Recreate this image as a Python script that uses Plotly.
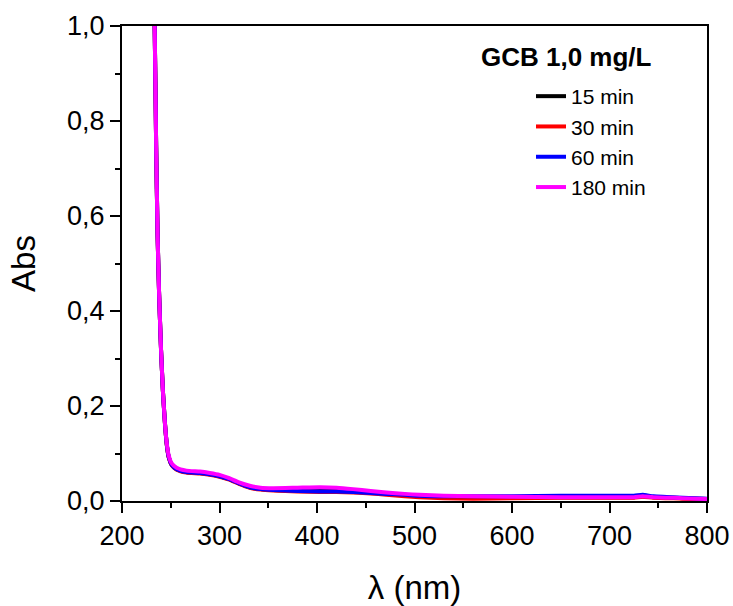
import plotly.graph_objects as go

# UV-Vis absorbance spectra of GCB (1,0 mg/L) at several contact times
wavelength = [232, 233.5, 235, 236.5, 238, 240, 242, 244, 246, 248, 251, 256,
              266, 280, 290, 300, 310, 320, 331, 342, 355, 380, 403, 420, 437,
              455, 471, 490, 505, 530, 560, 600, 650, 700, 725, 734, 745, 775, 800]

abs_15 = [1.10, 1.00, 0.75, 0.56, 0.44, 0.32, 0.23, 0.165, 0.118, 0.092, 0.076, 0.067,
          0.061, 0.059, 0.056, 0.052, 0.046, 0.037, 0.029, 0.025, 0.023, 0.022, 0.021, 0.021, 0.020,
          0.018, 0.015, 0.012, 0.011, 0.009, 0.008, 0.008, 0.008, 0.008, 0.008, 0.010, 0.008, 0.006, 0.004]

abs_30 = [1.10, 1.00, 0.75, 0.56, 0.44, 0.32, 0.23, 0.165, 0.117, 0.091, 0.075, 0.066,
          0.060, 0.058, 0.055, 0.051, 0.045, 0.036, 0.028, 0.024, 0.022, 0.020, 0.019, 0.019, 0.018,
          0.016, 0.013, 0.010, 0.008, 0.006, 0.005, 0.006, 0.007, 0.007, 0.007, 0.009, 0.007, 0.005, 0.003]

abs_60 = [1.10, 1.00, 0.75, 0.56, 0.44, 0.32, 0.23, 0.165, 0.118, 0.092, 0.076, 0.067,
          0.061, 0.059, 0.056, 0.052, 0.046, 0.037, 0.029, 0.025, 0.023, 0.021, 0.020, 0.020, 0.019,
          0.017, 0.015, 0.013, 0.011, 0.010, 0.010, 0.010, 0.011, 0.011, 0.011, 0.013, 0.010, 0.007, 0.005]

abs_180 = [1.10, 1.00, 0.75, 0.56, 0.44, 0.32, 0.23, 0.165, 0.12, 0.095, 0.079, 0.070,
           0.064, 0.062, 0.059, 0.055, 0.048, 0.039, 0.032, 0.028, 0.027, 0.028, 0.029, 0.028, 0.025,
           0.021, 0.018, 0.015, 0.013, 0.011, 0.010, 0.009, 0.008, 0.008, 0.008, 0.010, 0.008, 0.006, 0.004]

series_names = ["15 min", "30 min", "60 min", "180 min"]
series_values = [abs_15, abs_30, abs_60, abs_180]
series_colors = ["#000000", "#ff0000", "#0000ff", "#ff00ff"]

x_ticks = [200, 300, 400, 500, 600, 700, 800]
y_ticks = [0.0, 0.2, 0.4, 0.6, 0.8, 1.0]

FONT = "Arial, 'Liberation Sans', sans-serif"

# plot-area geometry in pixels
L, R, T, B = 122, 26, 26, 105
W, H = 733, 606
PW, PH = W - L - R, H - T - B

fig = go.Figure()
for name, vals, col in zip(series_names, series_values, series_colors):
    fig.add_trace(go.Scatter(
        x=wavelength, y=vals, name=name, mode="lines",
        line=dict(color=col, width=4, shape="spline", smoothing=0.5),
    ))

axis_common = dict(
    showline=True, linecolor="black", linewidth=2, mirror=True,
    ticks="outside", ticklen=10, tickwidth=1.5, tickcolor="black",
    showgrid=False, zeroline=False, automargin=False,
    tickfont=dict(family=FONT, size=27, color="black"),
)

fig.update_layout(
    width=W, height=H,
    margin=dict(l=L, r=R, t=T, b=B),
    paper_bgcolor="white", plot_bgcolor="white",
    separators=",.",
    font=dict(family=FONT, color="black"),
    xaxis=dict(
        range=[200, 800], tickvals=x_ticks,
        minor=dict(dtick=50, ticks="outside", ticklen=5, tickwidth=1.5, tickcolor="black"),
        title=dict(text="λ (nm)", font=dict(family=FONT, size=33), standoff=26),
        **axis_common,
    ),
    yaxis=dict(
        range=[0, 1.0], tickvals=y_ticks, tickformat=".1f",
        minor=dict(dtick=0.1, ticks="outside", ticklen=5, tickwidth=1.5, tickcolor="black"),
        title=dict(text="Abs", font=dict(family=FONT, size=33), standoff=22),
        **axis_common,
    ),
    showlegend=True,
    legend=dict(
        x=(531 - L) / PW, y=(T + PH - 76) / PH, xanchor="left", yanchor="top",
        bgcolor="rgba(0,0,0,0)", borderwidth=0,
        font=dict(family=FONT, size=21, color="black"),
        tracegroupgap=0,
    ),
    annotations=[dict(
        text="<b>GCB 1,0 mg/L</b>", xref="paper", yref="paper",
        x=(566.5 - L) / PW, y=(T + PH - 57) / PH, xanchor="center", yanchor="middle",
        showarrow=False, font=dict(family=FONT, size=26, color="black"),
    )],
)

fig.write_html("out.html")
